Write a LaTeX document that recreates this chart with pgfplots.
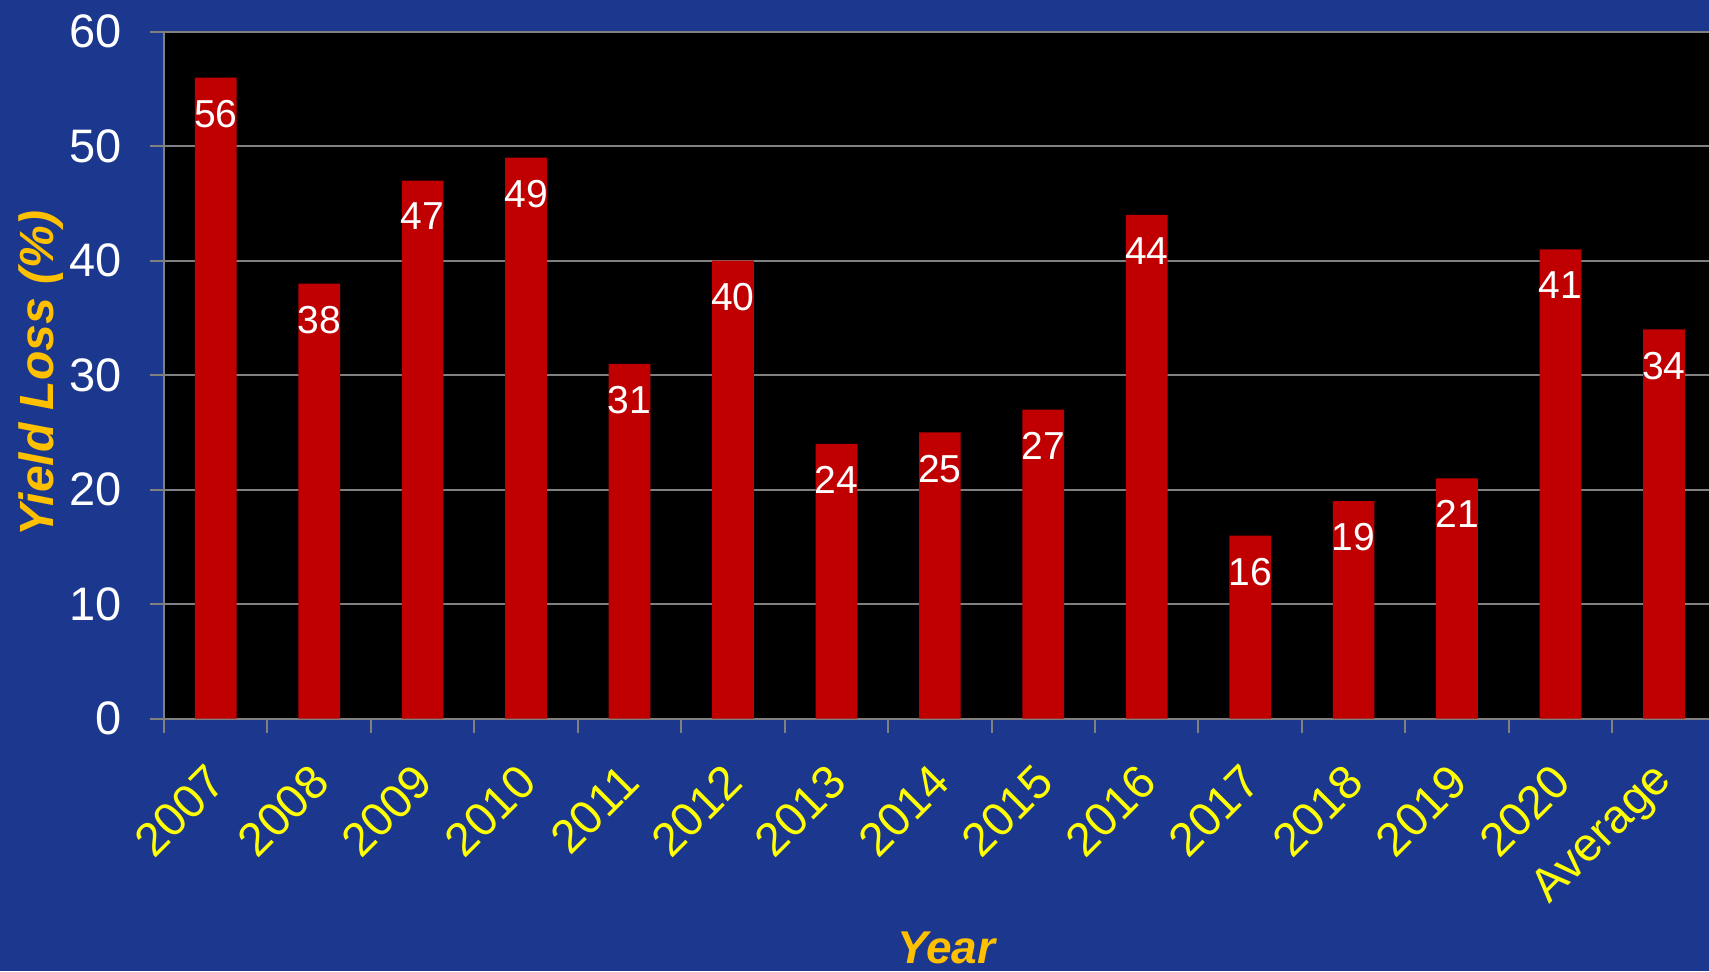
\documentclass[border=0pt]{standalone}
\usepackage{fontspec}
\setmainfont{Liberation Sans}
\usepackage{pgfplots}
\pgfplotsset{compat=1.18}

\definecolor{bgblue}{RGB}{27,55,142}
\definecolor{barred}{RGB}{192,0,0}
\definecolor{tickyellow}{RGB}{255,255,0}
\definecolor{titleorange}{RGB}{255,192,0}
\definecolor{gridgray}{RGB}{128,128,128}

\begin{document}
\begin{tikzpicture}
\useasboundingbox (-82pt,-126.15pt) rectangle (772.5pt,359.35pt);
\clip (-82pt,-126.15pt) rectangle (772.5pt,359.35pt);
\fill[bgblue] (-82pt,-126.15pt) rectangle (772.5pt,359.35pt);
\begin{axis}[
    at={(0,0)}, anchor=south west,
    scale only axis,
    width=775.85pt, height=343.5pt,
    xmin=-0.5, xmax=14.5,
    ymin=0, ymax=60,
    axis background/.style={fill=black},
    axis x line*=bottom, axis y line*=left,
    axis line style={gridgray, line width=1pt},
    ytick={0,10,...,60},
    ymajorgrids=true,
    grid style={gridgray, line width=0.9pt},
    xtick={0,...,14},
    xticklabels={2007,2008,2009,2010,2011,2012,2013,2014,2015,2016,2017,2018,2019,2020,Average},
    minor xtick={-0.5,0.5,...,14.5},
    major x tick style={draw=none},
    tick align=outside,
    major tick length=7pt, minor tick length=7pt,
    tick style={gridgray, line width=1pt},
    /pgf/number format/assume math mode=true,
    yticklabel style={font=\fontsize{23.5}{24}\selectfont, text=white,
        xshift=-10.5pt},
    xticklabel style={font=\fontsize{23.5}{24}\selectfont, text=tickyellow,
        xshift=3pt, yshift=-18pt, rotate=45, anchor=east},
    ylabel={\bfseries\itshape Yield Loss (\%)},
    ylabel style={at={(axis description cs:-0.071,0.503)}, anchor=base,
        font=\fontsize{24}{25}\selectfont, text=titleorange},
    xlabel={\bfseries\itshape Year},
    xlabel style={at={(axis description cs:0.504,-0.3567)}, anchor=base,
        font=\fontsize{23}{24}\selectfont, text=titleorange},
    ybar, bar width=20.85pt,
]
\addplot[fill=barred, draw=none,
    nodes near coords,
    nodes near coords style={text=white, font=\fontsize{19.5}{20}\selectfont,
        anchor=north, inner sep=0pt, yshift=-11pt},
    ] coordinates {
    (0,56)(1,38)(2,47)(3,49)(4,31)(5,40)(6,24)(7,25)
    (8,27)(9,44)(10,16)(11,19)(12,21)(13,41)(14,34)
    };
\end{axis}
\end{tikzpicture}
\end{document}
